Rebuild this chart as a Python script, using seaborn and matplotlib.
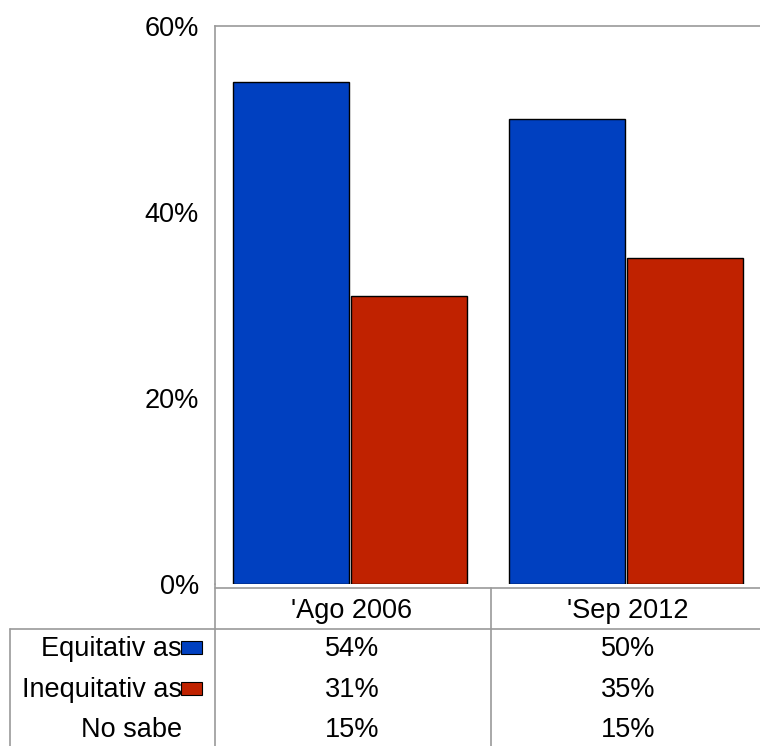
import matplotlib
matplotlib.use("Agg")
import matplotlib.pyplot as plt
import seaborn as sns
import pandas as pd
from matplotlib.lines import Line2D
from matplotlib.patches import Rectangle

categories = ["'Ago 2006", "'Sep 2012"]
series = ["Equitativ as", "Inequitativ as", "No sabe"]
equitativas = [54, 50]
inequitativas = [31, 35]
no_sabe = [15, 15]
yticks = [0, 20, 40, 60]
ytick_labels = ["0%", "20%", "40%", "60%"]

colors = {"Equitativ as": "#0040C0", "Inequitativ as": "#C02200"}

sns.set_theme(style="white")
plt.rcParams["font.family"] = ["Liberation Sans", "DejaVu Sans"]
plt.rcParams["text.color"] = "black"

W, H = 760, 746
fig = plt.figure(figsize=(W / 100, H / 100), dpi=100)

def fx(px):
    return px / W

def fy(py):
    return 1 - py / H

left, right, top, bottom = 215, 767, 26, 584
ax = fig.add_axes([fx(left), fy(bottom), fx(right - left), (bottom - top) / H])

df = pd.DataFrame({
    "cat": categories * 2,
    "serie": [series[0]] * 2 + [series[1]] * 2,
    "val": equitativas + inequitativas,
})
sns.barplot(data=df, x="cat", y="val", hue="serie", palette=colors,
            width=0.855, gap=0.02, edgecolor="black", linewidth=1.0, saturation=1,
            legend=False, ax=ax)

fs = 19.5
ax.set_xlim(-0.49, 1.51)
ax.set_ylim(0, 60)
ax.set_yticks(yticks)
ax.set_yticklabels(ytick_labels, fontsize=fs)
ax.set_xticks([])
ax.set_xlabel("")
ax.set_ylabel("")
ax.tick_params(axis="y", length=0, pad=11.5, colors="black")
grey = "#9a9a9a"
for s in ["left", "top"]:
    ax.spines[s].set_color(grey)
    ax.spines[s].set_linewidth(1.2)
ax.spines["right"].set_visible(False)
ax.spines["bottom"].set_visible(False)

# table lines
def hline(y, x0, x1):
    fig.add_artist(Line2D([fx(x0), fx(x1)], [fy(y), fy(y)], color=grey, lw=1.2))

def vline(x, y0, y1):
    fig.add_artist(Line2D([fx(x), fx(x)], [fy(y0), fy(y1)], color=grey, lw=1.2))

hline(588, left, 760)
hline(629, 10, 760)
vline(left, bottom, 746)
vline(491, 588, 746)
vline(10, 629, 746)

cat_x = [352, 628]
for c, x in zip(categories, cat_x):
    fig.text(fx(x), fy(611), c, ha="center", va="center", fontsize=fs)

rows = [equitativas, inequitativas, no_sabe]
row_y = [649, 690, 730]
for name, vals, y in zip(series, rows, row_y):
    fig.text(fx(182), fy(y), name, ha="right", va="center", fontsize=fs)
    for v, x in zip(vals, cat_x):
        fig.text(fx(x), fy(y), f"{v}%", ha="center", va="center", fontsize=fs)
    if name in colors:
        fig.add_artist(Rectangle((fx(181), fy(y + 5)), fx(21), 13 / H,
                                 facecolor=colors[name], edgecolor="black", lw=0.8))

fig.savefig("out.png", dpi=100)
